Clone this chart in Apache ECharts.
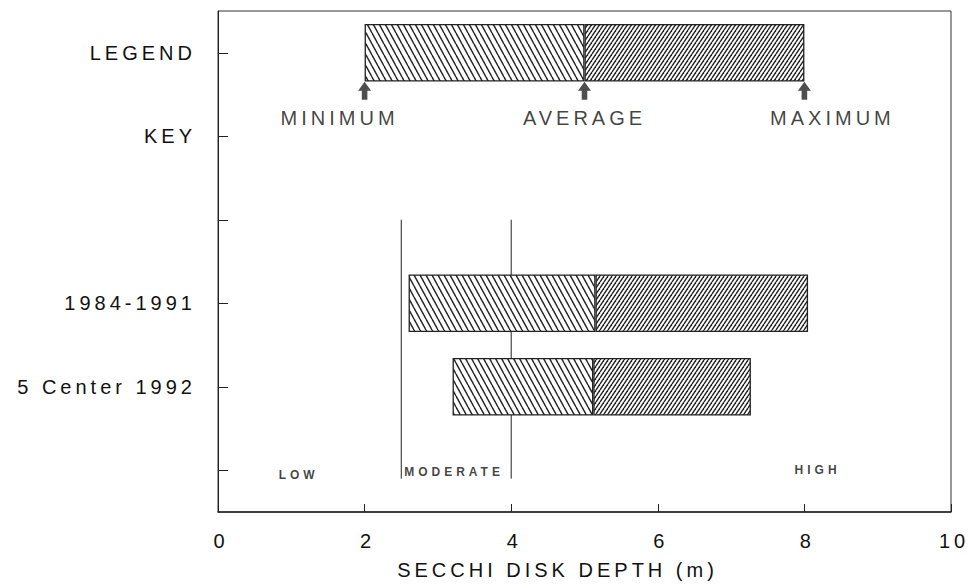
<!DOCTYPE html>
<html>
<head>
<meta charset="utf-8">
<script src="https://cdn.jsdelivr.net/npm/echarts@6/dist/echarts.min.js"></script>
<style>
  html, body { margin: 0; padding: 0; background: #fff; }
  #chart { width: 968px; height: 584px; }
  /* the old plotter lettering is widely spaced */
  #chart text { letter-spacing: 4px; }
</style>
</head>
<body>
<div id="chart"></div>
<script>
var categories = ['LEGEND', 'KEY', ' ', '1984-1991', '5 Center 1992', '  ']
var minVals = [2.0, null, null, 2.6, 3.2, null]
var avgVals = [5.0, null, null, 5.15, 5.12, null]
var maxVals = [8.0, null, null, 8.05, 7.27, null]
var keyLabels = ['MINIMUM', 'AVERAGE', 'MAXIMUM']
var zoneBounds = [2.5, 4]
var zoneNames = ['LOW', 'MODERATE', 'HIGH']
var zoneLabelX = [1.1, 3.22, 8.18]

function hatch(w, h, dir, lw, color) {
  var c = document.createElement('canvas')
  c.width = w
  c.height = h
  var ctx = c.getContext('2d')
  ctx.fillStyle = '#fff'
  ctx.fillRect(0, 0, w, h)
  ctx.strokeStyle = color
  ctx.lineWidth = lw
  for (var dx = -w; dx <= w; dx += w) {
    ctx.beginPath()
    if (dir > 0) {
      ctx.moveTo(dx, 0)
      ctx.lineTo(dx + w, h)
    } else {
      ctx.moveTo(dx, h)
      ctx.lineTo(dx + w, 0)
    }
    ctx.stroke()
  }
  return { image: c, repeat: 'repeat' }
}

var lowHatch = hatch(6, 11, 1, 1.4, '#222')
var highHatch = hatch(4, 6, -1, 1.4, '#222')

var seg1 = minVals.map(function (v, i) { return v == null ? null : +(avgVals[i] - v).toFixed(2) })
var seg2 = avgVals.map(function (v, i) { return v == null ? null : +(maxVals[i] - v).toFixed(2) })

var keyOffsets = [-25, 0, 28]
var keyPoints = [minVals[0], avgVals[0], maxVals[0]].map(function (x, i) {
  return { name: keyLabels[i], value: [x, 'LEGEND'], label: { offset: [keyOffsets[i], 0] } }
})

var zoneOffsets = [5, 2, 0]
var zonePoints = zoneNames.map(function (n, i) {
  return { name: n, value: [zoneLabelX[i], '  '], label: { offset: [0, zoneOffsets[i]] } }
})

var myChart = echarts.init(document.getElementById('chart'), null, { renderer: 'svg' })
var option = {
  animation: false,
  textStyle: { fontFamily: 'Liberation Sans, Arial, sans-serif' },
  grid: {
    left: 218,
    right: 17,
    top: 11,
    bottom: 72,
    outerBoundsMode: 'none',
    show: true,
    borderColor: '#333',
    borderWidth: 1
  },
  xAxis: {
    type: 'value',
    min: 0,
    max: 10,
    interval: 2,
    name: 'SECCHI DISK DEPTH (m)',
    nameLocation: 'middle',
    nameGap: 48,
    nameTextStyle: { fontSize: 20, color: '#111', padding: [0, 54, 0, 0] },
    axisLine: { show: true, lineStyle: { color: '#222', width: 1.5 } },
    axisTick: { show: true, inside: true, length: 8, lineStyle: { color: '#222' } },
    axisLabel: { fontSize: 20, color: '#111', margin: 19, padding: [0, 0, 0, 6] },
    splitLine: { show: false }
  },
  yAxis: {
    type: 'category',
    inverse: true,
    data: categories,
    axisLine: { show: true, lineStyle: { color: '#222' } },
    axisTick: { show: true, inside: true, alignWithLabel: true, length: 10, lineStyle: { color: '#222' } },
    axisLabel: { fontSize: 20, color: '#111', margin: 22 }
  },
  series: [
    {
      type: 'bar',
      stack: 'r',
      silent: true,
      barWidth: '69%',
      itemStyle: { color: 'transparent' },
      data: minVals
    },
    {
      type: 'bar',
      stack: 'r',
      barWidth: '69%',
      itemStyle: { color: lowHatch, borderColor: '#222', borderWidth: 1.3 },
      data: seg1
    },
    {
      type: 'bar',
      stack: 'r',
      barWidth: '69%',
      itemStyle: { color: highHatch, borderColor: '#222', borderWidth: 1.3 },
      data: seg2
    },
    {
      type: 'custom',
      silent: true,
      data: zoneBounds,
      renderItem: function (params, api) {
        var x = api.value(0)
        var p1 = api.coord([x, 2])
        var p2 = api.coord([x, 5])
        var band = api.size([0, 1])[1]
        return {
          type: 'line',
          shape: { x1: p1[0], y1: p1[1], x2: p2[0], y2: p2[1] + band * 0.1 },
          style: { stroke: '#222', lineWidth: 1 }
        }
      }
    },
    {
      type: 'scatter',
      silent: true,
      symbol: 'path://M7,0 L14,9 L10,9 L10,18 L4,18 L4,9 L0,9 Z',
      symbolSize: [13, 18],
      symbolOffset: [0, 38],
      itemStyle: { color: '#222' },
      label: {
        show: true,
        position: 'bottom',
        distance: 8,
        formatter: '{b}',
        fontSize: 20,
        color: '#111'
      },
      data: keyPoints
    },
    {
      type: 'scatter',
      silent: true,
      symbolSize: 0,
      label: {
        show: true,
        position: 'inside',
        formatter: '{b}',
        fontSize: 12,
        fontWeight: 'bold',
        color: '#111'
      },
      data: zonePoints
    }
  ]
}

option && myChart.setOption(option)
</script>
</body>
</html>
